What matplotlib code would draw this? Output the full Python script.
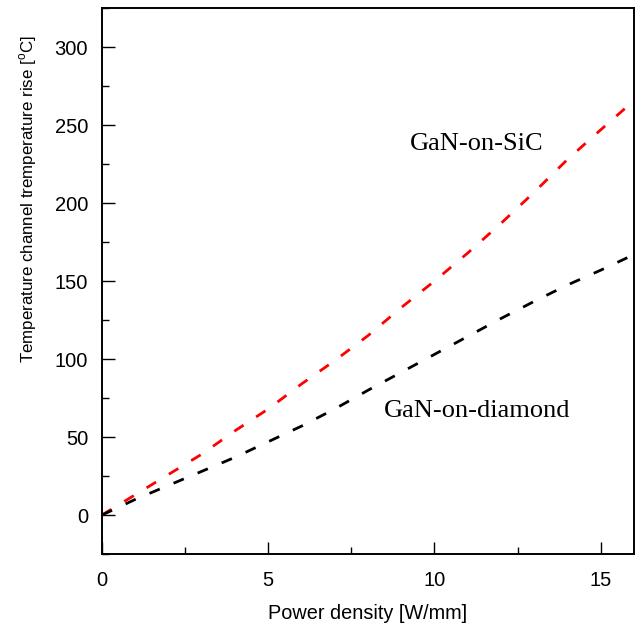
import numpy as np
import matplotlib
matplotlib.use("Agg")
import matplotlib.pyplot as plt
from matplotlib.ticker import MultipleLocator

plt.rcParams['font.family'] = ['Liberation Sans', 'DejaVu Sans']
plt.rcParams['mathtext.fontset'] = 'custom'
plt.rcParams['mathtext.rm'] = 'Liberation Sans'

# power density [W/mm]
power = [0, 1, 2, 3, 4, 5, 6, 7, 8, 9, 10, 11, 12, 13, 14, 15, 15.8]
# channel temperature rise [C]
rise_sic = [0, 13, 26, 39, 54, 68, 84, 99, 115, 133, 150, 168, 187, 207, 228, 247, 262]
rise_diamond = [0, 10, 19, 28, 37, 47, 57, 68, 80, 91.5, 103, 114.5, 126, 137, 147.5, 157, 165]

fig = plt.figure(figsize=(6.35, 6.26), dpi=100)
ax = fig.add_axes([0.1606, 0.115, 0.8378, 0.872])

ax.plot(power, rise_sic, color='#ff0000', lw=2.0, ls=(0, (4, 5.4)))
ax.plot(power, rise_diamond, color='black', lw=2.0, ls=(0, (4, 5.4)))

ax.text(11.26, 238, 'GaN-on-SiC', family='Liberation Serif', fontsize=19,
        ha='center', va='center')
ax.text(11.28, 67, 'GaN-on-diamond', family='Liberation Serif', fontsize=19,
        ha='center', va='center')

ax.set_xlim(0, 16)
ax.set_ylim(-25, 325)
ax.xaxis.set_major_locator(MultipleLocator(5))
ax.xaxis.set_minor_locator(MultipleLocator(2.5))
ax.yaxis.set_major_locator(MultipleLocator(50))
ax.yaxis.set_minor_locator(MultipleLocator(25))
ax.tick_params(which='both', direction='in', width=1.0, labelsize=14.5)
ax.tick_params(which='major', length=9)
ax.tick_params(which='minor', length=4.7)
ax.tick_params(axis='x', which='major', pad=12)
ax.tick_params(axis='y', which='major', pad=10)
for s in ax.spines.values():
    s.set_linewidth(1.4)

ax.set_xlabel('Power density [W/mm]', fontsize=14.3, labelpad=10)
ax.set_ylabel(r'Temperature channel trempe' + r'rature rise [$^{\rm o}$C]',
              fontsize=12.2)
ax.yaxis.set_label_coords(-0.118, 0.65)

fig.savefig('out.png', dpi=100)
